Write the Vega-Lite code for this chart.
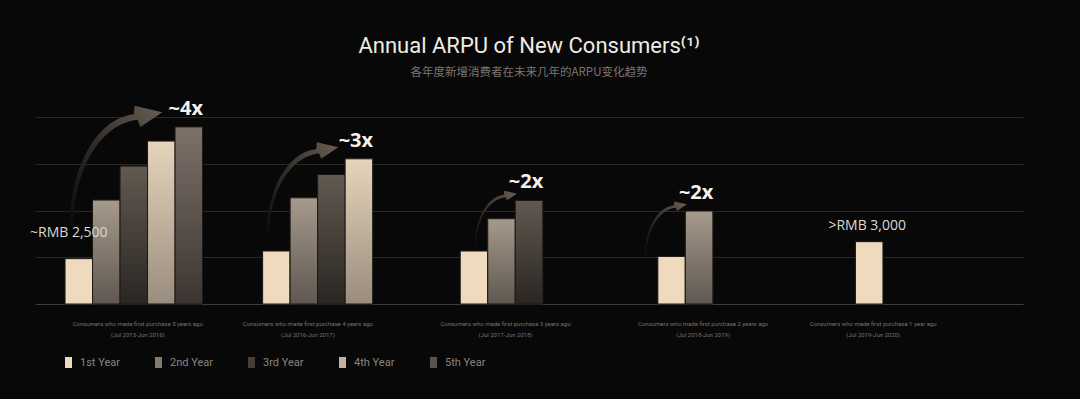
{
  "$schema": "https://vega.github.io/schema/vega-lite/v6.json",
  "width": 988,
  "height": 209,
  "autosize": {"type": "none"},
  "padding": {"left": 35, "top": 95, "right": 57, "bottom": 95},
  "background": "#090808",
  "title": {
    "text": "Annual ARPU of New Consumers⁽¹⁾",
    "subtitle": "各年度新增消费者在未来几年的ARPU变化趋势",
    "anchor": "middle",
    "frame": "group",
    "offset": 16,
    "font": "Roboto",
    "fontSize": 22,
    "fontWeight": 400,
    "color": "#efebe6",
    "subtitleFont": "Noto Sans CJK SC",
    "subtitleFontSize": 11.5,
    "subtitleColor": "#7b7671",
    "subtitlePadding": 9
  },
  "config": {
    "view": {"stroke": null},
    "axisX": {"labels": false, "ticks": false, "grid": false, "domainColor": "#3e3b38", "domainWidth": 1},
    "axisY": {"labels": false, "ticks": false, "domain": false, "gridColor": "#2a2826", "gridWidth": 1},
    "legend": {
      "orient": "none",
      "legendX": 28,
      "legendY": 262,
      "direction": "horizontal",
      "padding": 0,
      "symbolType": "M -0.64 -1 L 0.64 -1 L 0.64 1 L -0.64 1 Z",
      "symbolSize": 121,
      "symbolStrokeWidth": 0,
      "symbolOpacity": 1,
      "labelFont": "Roboto",
      "labelFontSize": 11,
      "labelColor": "#8a847e",
      "labelOffset": 6,
      "columnPadding": 33
    }
  },
  "datasets": {
    "bars": [
      {"cohort": "Jul 2015-Jun 2016", "year": "1st Year", "value": 2430, "note": "~RMB 2,500"},
      {"cohort": "Jul 2015-Jun 2016", "year": "2nd Year", "value": 5570},
      {"cohort": "Jul 2015-Jun 2016", "year": "3rd Year", "value": 7390},
      {"cohort": "Jul 2015-Jun 2016", "year": "4th Year", "value": 8730},
      {"cohort": "Jul 2015-Jun 2016", "year": "5th Year", "value": 9490, "mult": "~4x", "k": 4},
      {"cohort": "Jul 2016-Jun 2017", "year": "1st Year", "value": 2840},
      {"cohort": "Jul 2016-Jun 2017", "year": "2nd Year", "value": 5690},
      {"cohort": "Jul 2016-Jun 2017", "year": "3rd Year", "value": 6940},
      {"cohort": "Jul 2016-Jun 2017", "year": "4th Year", "value": 7780, "mult": "~3x", "k": 3},
      {"cohort": "Jul 2017-Jun 2018", "year": "1st Year", "value": 2840},
      {"cohort": "Jul 2017-Jun 2018", "year": "2nd Year", "value": 4570},
      {"cohort": "Jul 2017-Jun 2018", "year": "3rd Year", "value": 5550, "mult": "~2x", "k": 2},
      {"cohort": "Jul 2018-Jun 2019", "year": "1st Year", "value": 2550},
      {"cohort": "Jul 2018-Jun 2019", "year": "2nd Year", "value": 4980, "mult": "~2x", "k": 2},
      {"cohort": "Jul 2019-Jun 2020", "year": "1st Year", "value": 3340, "note": ">RMB 3,000"}
    ],
    "cohorts": [
      {"cohort": "Jul 2015-Jun 2016", "mid": "3rd Year", "label": ["Consumers who made first purchase 5 years ago", "(Jul 2015-Jun 2016)"]},
      {"cohort": "Jul 2016-Jun 2017", "mid": "2nd Year", "label": ["Consumers who made first purchase 4 years ago", "(Jul 2016-Jun 2017)"]},
      {"cohort": "Jul 2017-Jun 2018", "mid": "2nd Year", "label": ["Consumers who made first purchase 3 years ago", "(Jul 2017-Jun 2018)"]},
      {"cohort": "Jul 2018-Jun 2019", "mid": "2nd Year", "label": ["Consumers who made first purchase 2 years ago", "(Jul 2018-Jun 2019)"]},
      {"cohort": "Jul 2019-Jun 2020", "mid": "1st Year", "label": ["Consumers who made first purchase 1 year ago", "(Jul 2019-Jun 2020)"]}
    ]
  },
  "layer": [
    {
      "data": {"name": "bars"},
      "mark": {"type": "bar", "stroke": "#1c1916", "strokeWidth": 1},
      "encoding": {
        "x": {"field": "cohort", "type": "nominal", "title": null,
              "scale": {"domain": ["Jul 2015-Jun 2016", "Jul 2016-Jun 2017", "Jul 2017-Jun 2018", "Jul 2018-Jun 2019", "Jul 2019-Jun 2020"], "paddingInner": 0.304, "paddingOuter": 0.152}},
        "xOffset": {"field": "year", "type": "nominal",
              "scale": {"domain": ["1st Year", "2nd Year", "3rd Year", "4th Year", "5th Year"], "paddingInner": 0, "paddingOuter": 0}},
        "y": {"field": "value", "type": "quantitative", "title": null,
              "scale": {"domain": [0, 11200], "nice": false},
              "axis": {"values": [2500, 5000, 7500, 10000], "grid": true}},
        "color": {"field": "year", "type": "nominal", "title": null,
          "scale": {"domain": ["1st Year", "2nd Year", "3rd Year", "4th Year", "5th Year"],
            "range": ["#f0dabd", "#857a6e", "#463f39", "#c3b39e", "#5c534d"]}}
      }
    },
    {
      "data": {"name": "bars"},
      "transform": [{"filter": "datum.year == '2nd Year'"}],
      "mark": {"type": "bar", "stroke": "#1c1916", "strokeWidth": 1,
        "color": {"gradient": "linear", "x1": 0, "y1": 0, "x2": 0, "y2": 1, "stops": [{"offset": 0, "color": "#a69a8c"}, {"offset": 1, "color": "#5f5750"}]}},
      "encoding": {
        "x": {"field": "cohort", "type": "nominal", "title": null},
        "xOffset": {"field": "year", "type": "nominal", "scale": {"domain": ["1st Year", "2nd Year", "3rd Year", "4th Year", "5th Year"]}},
        "y": {"field": "value", "type": "quantitative", "title": null}
      }
    },
    {
      "data": {"name": "bars"},
      "transform": [{"filter": "datum.year == '3rd Year'"}],
      "mark": {"type": "bar", "stroke": "#1c1916", "strokeWidth": 1,
        "color": {"gradient": "linear", "x1": 0, "y1": 0, "x2": 0, "y2": 1, "stops": [{"offset": 0, "color": "#625950"}, {"offset": 1, "color": "#2a2622"}]}},
      "encoding": {
        "x": {"field": "cohort", "type": "nominal", "title": null},
        "xOffset": {"field": "year", "type": "nominal", "scale": {"domain": ["1st Year", "2nd Year", "3rd Year", "4th Year", "5th Year"]}},
        "y": {"field": "value", "type": "quantitative", "title": null}
      }
    },
    {
      "data": {"name": "bars"},
      "transform": [{"filter": "datum.year == '4th Year'"}],
      "mark": {"type": "bar", "stroke": "#1c1916", "strokeWidth": 1,
        "color": {"gradient": "linear", "x1": 0, "y1": 0, "x2": 0, "y2": 1, "stops": [{"offset": 0, "color": "#e6d5bc"}, {"offset": 1, "color": "#9a8d7e"}]}},
      "encoding": {
        "x": {"field": "cohort", "type": "nominal", "title": null},
        "xOffset": {"field": "year", "type": "nominal", "scale": {"domain": ["1st Year", "2nd Year", "3rd Year", "4th Year", "5th Year"]}},
        "y": {"field": "value", "type": "quantitative", "title": null}
      }
    },
    {
      "data": {"name": "bars"},
      "transform": [{"filter": "datum.year == '5th Year'"}],
      "mark": {"type": "bar", "stroke": "#1c1916", "strokeWidth": 1,
        "color": {"gradient": "linear", "x1": 0, "y1": 0, "x2": 0, "y2": 1, "stops": [{"offset": 0, "color": "#7d7169"}, {"offset": 1, "color": "#3b3531"}]}},
      "encoding": {
        "x": {"field": "cohort", "type": "nominal", "title": null},
        "xOffset": {"field": "year", "type": "nominal", "scale": {"domain": ["1st Year", "2nd Year", "3rd Year", "4th Year", "5th Year"]}},
        "y": {"field": "value", "type": "quantitative", "title": null}
      }
    },
    {
      "data": {"name": "bars"},
      "transform": [{"filter": "datum.k > 0"}],
      "mark": {"type": "point", "filled": true, "opacity": 1, "strokeWidth": 0,
        "shape": "M -2.01 1.615 C -2.01 0.815 -1.63 -0.135 -0.93 -0.215 L -0.92 -0.36 L -0.45 -0.25 L -0.82 0.0 L -0.87 -0.12 C -1.5 -0.05 -1.93 0.715 -1.96 1.615 Z",
        "color": {"gradient": "linear", "x1": 0, "y1": 1, "x2": 1, "y2": 0, "stops": [{"offset": 0, "color": "#0f0d0b"}, {"offset": 0.45, "color": "#2f2a25"}, {"offset": 1, "color": "#6a5f56"}]}},
      "encoding": {
        "x": {"field": "cohort", "type": "nominal", "title": null},
        "xOffset": {"field": "year", "type": "nominal", "scale": {"domain": ["1st Year", "2nd Year", "3rd Year", "4th Year", "5th Year"]}},
        "y": {"field": "value", "type": "quantitative", "title": null},
        "size": {"field": "k", "type": "quantitative", "legend": null, "scale": {"domain": [2, 4], "range": [2900, 13924], "zero": false}}
      }
    },
    {
      "data": {"name": "bars"},
      "transform": [{"filter": "datum.k > 0"}],
      "mark": {"type": "text", "font": "Open Sans", "fontSize": 20, "fontWeight": "bold", "color": "#f4f1ec", "dx": -3, "dy": -18, "baseline": "middle", "align": "center"},
      "encoding": {
        "x": {"field": "cohort", "type": "nominal", "title": null},
        "xOffset": {"field": "year", "type": "nominal", "scale": {"domain": ["1st Year", "2nd Year", "3rd Year", "4th Year", "5th Year"]}},
        "y": {"field": "value", "type": "quantitative", "title": null},
        "text": {"field": "mult"}
      }
    },
    {
      "data": {"name": "bars"},
      "transform": [{"filter": "datum.note == '~RMB 2,500'"}],
      "mark": {"type": "text", "font": "Open Sans", "fontSize": 14, "color": "#dcd8d2", "dx": -10, "dy": -26, "baseline": "middle", "align": "center"},
      "encoding": {
        "x": {"field": "cohort", "type": "nominal", "title": null},
        "xOffset": {"field": "year", "type": "nominal", "scale": {"domain": ["1st Year", "2nd Year", "3rd Year", "4th Year", "5th Year"]}},
        "y": {"field": "value", "type": "quantitative", "title": null},
        "text": {"field": "note"}
      }
    },
    {
      "data": {"name": "bars"},
      "transform": [{"filter": "datum.note == '>RMB 3,000'"}],
      "mark": {"type": "text", "font": "Open Sans", "fontSize": 14, "color": "#dcd8d2", "dx": -2, "dy": -16, "baseline": "middle", "align": "center"},
      "encoding": {
        "x": {"field": "cohort", "type": "nominal", "title": null},
        "xOffset": {"field": "year", "type": "nominal", "scale": {"domain": ["1st Year", "2nd Year", "3rd Year", "4th Year", "5th Year"]}},
        "y": {"field": "value", "type": "quantitative", "title": null},
        "text": {"field": "note"}
      }
    },
    {
      "data": {"name": "cohorts"},
      "mark": {"type": "text", "font": "Roboto", "fontSize": 6, "color": "#77726c", "dx": 4, "dy": 17, "baseline": "top", "align": "center", "lineHeight": 10.5},
      "encoding": {
        "x": {"field": "cohort", "type": "nominal", "title": null},
        "xOffset": {"field": "mid", "type": "nominal", "scale": {"domain": ["1st Year", "2nd Year", "3rd Year", "4th Year", "5th Year"]}},
        "y": {"datum": 0, "type": "quantitative", "title": null},
        "text": {"field": "label"}
      }
    }
  ]
}
